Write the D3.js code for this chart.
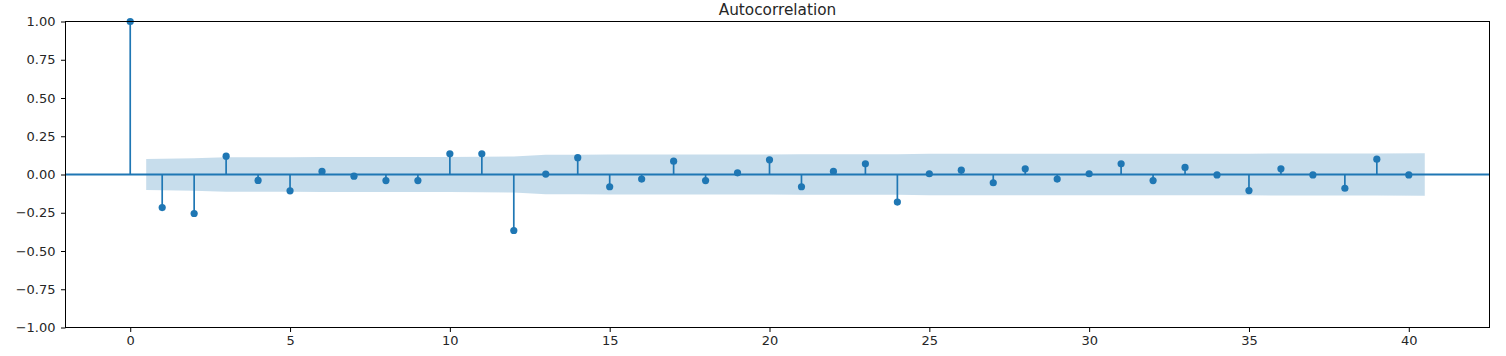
<!DOCTYPE html>
<html>
<head>
<meta charset="utf-8">
<script src="https://cdn.jsdelivr.net/npm/d3@7"></script>
<style>
  html, body { margin: 0; padding: 0; background: #fff; }
  svg { display: block; }
  text { font-family: "DejaVu Sans", sans-serif; fill: #262626; }
</style>
</head>
<body>
<svg id="chart" width="1506" height="356"></svg>
<script>
// ---- data ----
const lags = d3.range(0, 41);
const acfValues = [
  1.00, -0.216, -0.255, 0.120, -0.039, -0.107, 0.020, -0.011, -0.040, -0.040,
  0.135, 0.135, -0.366, 0.003, 0.110, -0.080, -0.030, 0.087, -0.040, 0.011,
  0.096, -0.080, 0.020, 0.070, -0.180, 0.005, 0.028, -0.054, 0.037, -0.030,
  0.005, 0.070, -0.040, 0.046, -0.003, -0.105, 0.037, -0.003, -0.090, 0.100,
  -0.003
];
// confidence band half-widths for lags 1..40 (read from the shaded region)
const bandHalfWidth = [
  0.101, 0.106, 0.112, 0.113, 0.113, 0.114, 0.114, 0.114, 0.114, 0.115,
  0.116, 0.118, 0.129, 0.129, 0.130, 0.130, 0.130, 0.131, 0.131, 0.131,
  0.132, 0.132, 0.132, 0.133, 0.135, 0.135, 0.135, 0.135, 0.136, 0.136,
  0.136, 0.136, 0.136, 0.136, 0.136, 0.137, 0.137, 0.137, 0.138, 0.139
];
const xTicks = [0, 5, 10, 15, 20, 25, 30, 35, 40];
const yTicks = [-1.00, -0.75, -0.50, -0.25, 0.00, 0.25, 0.50, 0.75, 1.00];
const chartTitle = "Autocorrelation";

// ---- layout ----
const svg = d3.select("#chart");
const mLeft = 65.5, mRight = 1489.5, mTop = 21.5, mBottom = 327.5;
const x = d3.scaleLinear().domain([-2.025, 42.525]).range([mLeft, mRight]);
const y = d3.scaleLinear().domain([-1, 1]).range([mBottom, mTop]);
const C0 = "#1f77b4";

// band
const bandData = bandHalfWidth.map((h, i) => ({ lag: i + 1, h }));
bandData[0] = { lag: 0.5, h: bandHalfWidth[0] };
bandData[bandData.length - 1] = { lag: 40.5, h: bandHalfWidth[bandHalfWidth.length - 1] };
svg.append("path")
  .datum(bandData)
  .attr("fill", C0)
  .attr("fill-opacity", 0.25)
  .attr("d", d3.area().x(d => x(d.lag)).y0(d => y(-d.h)).y1(d => y(d.h)));

// zero line
svg.append("line")
  .attr("x1", mLeft).attr("x2", mRight)
  .attr("y1", y(0)).attr("y2", y(0))
  .attr("stroke", C0).attr("stroke-width", 1.8);

// stems
svg.append("g").selectAll("line")
  .data(lags)
  .join("line")
  .attr("x1", d => x(d)).attr("x2", d => x(d))
  .attr("y1", y(0)).attr("y2", d => y(acfValues[d]))
  .attr("stroke", C0).attr("stroke-width", 1.7);

// markers
svg.append("g").selectAll("circle")
  .data(lags)
  .join("circle")
  .attr("cx", d => x(d)).attr("cy", d => y(acfValues[d]))
  .attr("r", 3.6)
  .attr("fill", C0);

// axes
const xAxis = d3.axisBottom(x).tickValues(xTicks).tickFormat(d3.format("d"))
  .tickSize(4.5).tickPadding(4);
const yAxis = d3.axisLeft(y).tickValues(yTicks).tickFormat(d3.format(".2f"))
  .tickSize(4.5).tickPadding(5.5);

const gx = svg.append("g").attr("transform", `translate(0,${mBottom})`).call(xAxis);
const gy = svg.append("g").attr("transform", `translate(${mLeft},0)`).call(yAxis);
[gx, gy].forEach(g => {
  g.select(".domain").remove();
  g.selectAll(".tick line").attr("stroke", "#000").attr("stroke-width", 1);
  g.selectAll(".tick text").attr("font-size", 13).attr("fill", "#262626")
    .attr("font-family", "DejaVu Sans, sans-serif");
});
gy.selectAll(".tick text").text(d => d3.format(".2f")(d).replace("-", "\u2212"));

// frame
svg.append("rect")
  .attr("x", mLeft).attr("y", mTop)
  .attr("width", mRight - mLeft).attr("height", mBottom - mTop)
  .attr("fill", "none").attr("stroke", "#000").attr("stroke-width", 1);

// title
svg.append("text")
  .attr("x", (mLeft + mRight) / 2).attr("y", 15)
  .attr("text-anchor", "middle")
  .attr("font-size", 15.3)
  .text(chartTitle);
</script>
</body>
</html>
